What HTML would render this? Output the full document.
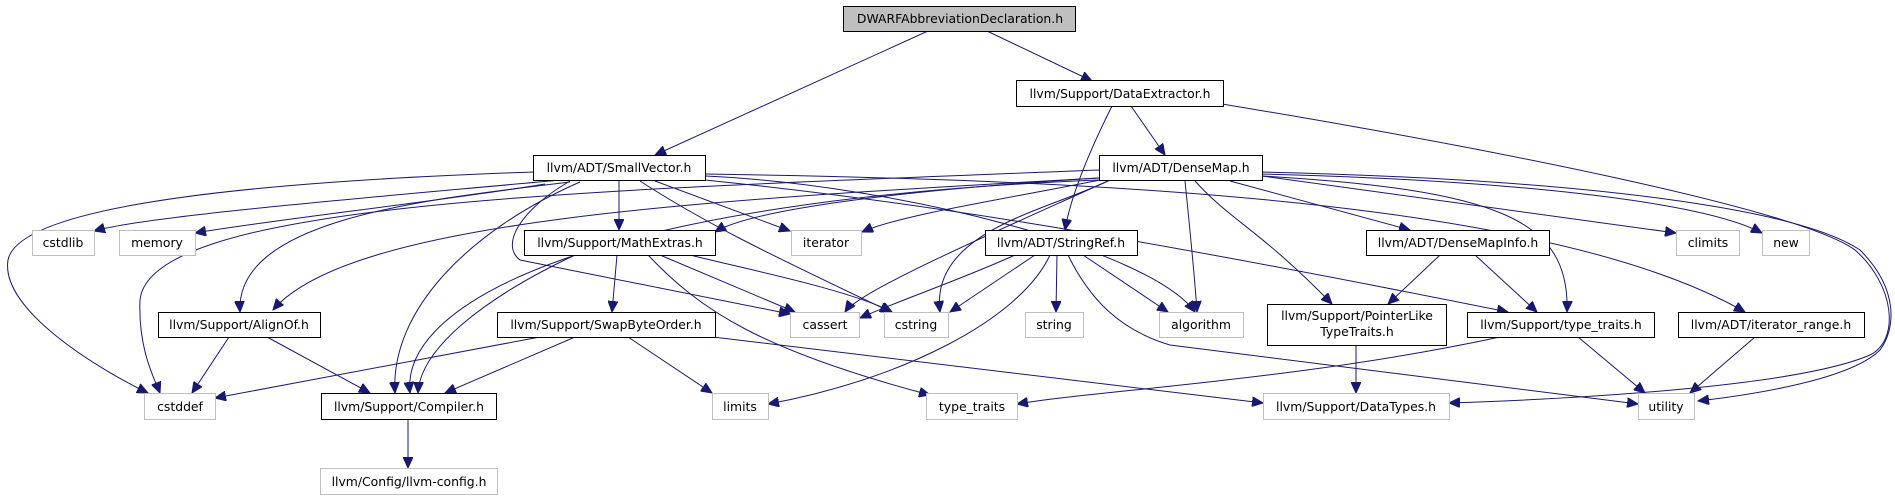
<!DOCTYPE html>
<html><head><meta charset="utf-8"><style>
html,body{margin:0;padding:0;background:#fff;}
svg{display:block;}
text{font-family:"DejaVu Sans","Liberation Sans",sans-serif;font-size:12.4px;fill:#000;text-anchor:middle;}
.b{fill:#fff;stroke:#000;stroke-width:1;}
.g{fill:#fff;stroke:#bfbfbf;stroke-width:1;}
.e{fill:none;stroke:#191970;stroke-width:1;marker-end:url(#a);}
</style></head><body>
<svg width="1895" height="500" viewBox="0 0 1895 500" xmlns="http://www.w3.org/2000/svg">
<defs><marker id="a" markerUnits="userSpaceOnUse" markerWidth="12" markerHeight="10" refX="11" refY="5" orient="auto"><path d="M0,0 L11,5 L0,10 z" fill="#191970" stroke="#191970"/></marker></defs>
<g>
<path class="e" d="M928,31 L655,155"/>
<path class="e" d="M987,31 L1092,81"/>
<path class="e" d="M1112,106 C1085,160 1070,200 1065,230"/>
<path class="e" d="M1131,106 L1165,155"/>
<path class="e" d="M1222,104 C1500,150 1800,210 1855,250 C1895,285 1900,340 1870,355 C1800,385 1600,398 1449,403"/>
<path class="e" d="M560,180 C400,195 150,215 94,231"/>
<path class="e" d="M545,184 C450,200 270,220 195,233"/>
<path class="e" d="M534,172 C300,180 20,200 8,260 C0,310 100,370 148,393"/>
<path class="e" d="M570,182 C420,200 235,220 240,312"/>
<path class="e" d="M580,182 C470,230 390,310 395,393"/>
<path class="e" d="M619,181 L619,230"/>
<path class="e" d="M655,181 L790,231"/>
<path class="e" d="M570,181 C520,210 500,245 520,260 L790,314"/>
<path class="e" d="M640,181 C700,220 760,250 891,312"/>
<path class="e" d="M705,176 C900,185 1150,250 1195,312"/>
<path class="e" d="M705,180 C900,200 1100,230 1508,312"/>
<path class="e" d="M705,174 C1100,180 1550,200 1745,312"/>
<path class="e" d="M1099,170 C600,190 150,200 140,300 C138,350 155,380 160,393"/>
<path class="e" d="M1099,178 C700,200 350,220 273,310"/>
<path class="e" d="M1099,180 C600,200 400,300 410,393"/>
<path class="e" d="M575,255 C480,300 420,350 418,393"/>
<path class="e" d="M1099,178 C900,190 750,210 715,232"/>
<path class="e" d="M1100,180 C1000,200 900,215 862,232"/>
<path class="e" d="M1110,180 C1000,230 860,290 845,312"/>
<path class="e" d="M1110,180 C1050,210 930,230 940,312"/>
<path class="e" d="M1185,181 C1190,230 1195,280 1197,312"/>
<path class="e" d="M1230,181 L1410,230"/>
<path class="e" d="M1195,181 C1230,220 1260,230 1332,304"/>
<path class="e" d="M1262,176 C1500,190 1570,220 1567,312"/>
<path class="e" d="M1262,176 L1676,233"/>
<path class="e" d="M1262,174 C1500,180 1700,200 1762,233"/>
<path class="e" d="M1262,172 C1600,180 1800,210 1860,250 C1900,290 1895,330 1880,350 C1850,380 1750,395 1698,401"/>
<path class="e" d="M1440,255 L1388,304"/>
<path class="e" d="M1475,255 L1537,312"/>
<path class="e" d="M1356,345 L1356,393"/>
<path class="e" d="M1500,337 C1300,380 1100,390 1017,404"/>
<path class="e" d="M1578,337 L1645,393"/>
<path class="e" d="M1755,337 L1690,393"/>
<path class="e" d="M1015,255 C960,280 900,300 860,318"/>
<path class="e" d="M1035,255 L950,312"/>
<path class="e" d="M1057,255 L1056,312"/>
<path class="e" d="M1083,255 L1168,312"/>
<path class="e" d="M1050,255 C1020,320 900,380 768,404"/>
<path class="e" d="M1068,255 C1090,300 1120,330 1170,345 L1638,404"/>
<path class="e" d="M617,255 L612,312"/>
<path class="e" d="M660,255 L795,312"/>
<path class="e" d="M690,255 C750,270 850,290 892,312"/>
<path class="e" d="M648,255 C700,310 760,350 930,395"/>
<path class="e" d="M229,337 L192,393"/>
<path class="e" d="M267,337 L370,393"/>
<path class="e" d="M540,337 L215,398"/>
<path class="e" d="M575,337 L445,393"/>
<path class="e" d="M628,337 L712,393"/>
<path class="e" d="M713,337 L1263,403"/>
<path class="e" d="M408,419 L408,468"/>
</g>
<g>
<rect x="843.5" y="6.5" width="232" height="25" fill="#bfbfbf" stroke="#000"/><text x="960" y="23">DWARFAbbreviationDeclaration.h</text>
<rect class="b" x="1016.5" y="80.5" width="207" height="26"/><text x="1120" y="98">llvm/Support/DataExtractor.h</text>
<rect class="b" x="533.5" y="155.5" width="172" height="25"/><text x="619" y="172">llvm/ADT/SmallVector.h</text>
<rect class="b" x="1099.5" y="155.5" width="163" height="25"/><text x="1181" y="172">llvm/ADT/DenseMap.h</text>
<rect class="g" x="32.5" y="230.5" width="62" height="25"/><text x="63" y="247">cstdlib</text>
<rect class="g" x="119.5" y="230.5" width="76" height="25"/><text x="157" y="247">memory</text>
<rect class="b" x="524.5" y="230.5" width="191" height="25"/><text x="620" y="247">llvm/Support/MathExtras.h</text>
<rect class="g" x="791.5" y="230.5" width="70" height="25"/><text x="826" y="247">iterator</text>
<rect class="b" x="985.5" y="230.5" width="152" height="25"/><text x="1061" y="247">llvm/ADT/StringRef.h</text>
<rect class="b" x="1366.5" y="230.5" width="183" height="25"/><text x="1458" y="247">llvm/ADT/DenseMapInfo.h</text>
<rect class="g" x="1676.5" y="230.5" width="63" height="25"/><text x="1708" y="247">climits</text>
<rect class="g" x="1762.5" y="230.5" width="47" height="25"/><text x="1786" y="247">new</text>
<rect class="b" x="158.5" y="312.5" width="162" height="25"/><text x="239" y="329">llvm/Support/AlignOf.h</text>
<rect class="b" x="497.5" y="312.5" width="218" height="25"/><text x="606" y="329">llvm/Support/SwapByteOrder.h</text>
<rect class="g" x="790.5" y="312.5" width="69" height="25"/><text x="825" y="329">cassert</text>
<rect class="g" x="884.5" y="312.5" width="64" height="25"/><text x="916" y="329">cstring</text>
<rect class="g" x="1025.5" y="312.5" width="58" height="25"/><text x="1054" y="329">string</text>
<rect class="g" x="1159.5" y="312.5" width="84" height="25"/><text x="1201" y="329">algorithm</text>
<rect class="b" x="1267.5" y="304.5" width="179" height="41"/><text x="1357" y="320">llvm/Support/PointerLike</text><text x="1357" y="336">TypeTraits.h</text>
<rect class="b" x="1467.5" y="312.5" width="187" height="25"/><text x="1561" y="329">llvm/Support/type_traits.h</text>
<rect class="b" x="1678.5" y="312.5" width="186" height="25"/><text x="1771" y="329">llvm/ADT/iterator_range.h</text>
<rect class="g" x="144.5" y="393.5" width="71" height="26"/><text x="180" y="411">cstddef</text>
<rect class="b" x="321.5" y="393.5" width="175" height="26"/><text x="409" y="411">llvm/Support/Compiler.h</text>
<rect class="g" x="712.5" y="393.5" width="56" height="26"/><text x="740" y="411">limits</text>
<rect class="g" x="926.5" y="393.5" width="91" height="26"/><text x="972" y="411">type_traits</text>
<rect class="g" x="1263.5" y="393.5" width="186" height="26"/><text x="1356" y="411">llvm/Support/DataTypes.h</text>
<rect class="g" x="1638.5" y="393.5" width="56" height="26"/><text x="1666" y="411">utility</text>
<rect class="g" x="320.5" y="468.5" width="177" height="26"/><text x="409" y="486">llvm/Config/llvm-config.h</text>
</g>
</svg>
</body></html>
